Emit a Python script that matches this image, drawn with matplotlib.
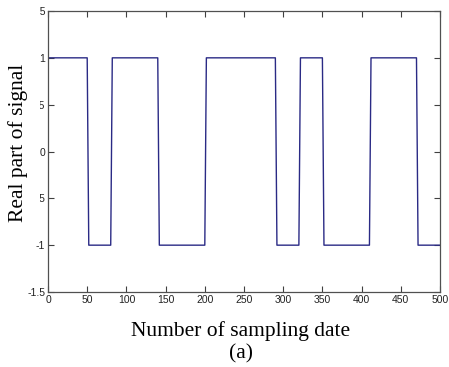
import matplotlib
matplotlib.use("Agg")
import matplotlib.pyplot as plt
from matplotlib.patches import Rectangle

# corner points of the signal (sample index, real part)
samples = [0, 50, 51, 52, 80, 81, 82, 140, 141, 142, 200, 201, 202,
           290, 291, 292, 320, 321, 322, 350, 351, 352, 410, 411, 412,
           470, 471, 472, 500]
real_part = [1, 1, 0, -1, -1, 0, 1, 1, 0, -1, -1, 0, 1,
             1, 0, -1, -1, 0, 1, 1, 0, -1, -1, 0, 1,
             1, 0, -1, -1]

xticks = [0, 50, 100, 150, 200, 250, 300, 350, 400, 450, 500]
yticks = [-1.5, -1, -0.5, 0, 0.5, 1, 1.5]
ytick_labels = ["-1.5", "-1", "-0.5", "0", "0.5", "1", "1.5"]

W, H = 449, 367
fig = plt.figure(figsize=(W / 100, H / 100), dpi=100)
ax = fig.add_axes([48 / W, 1 - 292 / H, 392 / W, 281 / H])

ax.plot(samples, real_part, color="#2a2a85", linewidth=1.0)

ax.set_xlim(0, 500)
ax.set_ylim(-1.5, 1.5)
ax.set_xticks(xticks)
ax.set_yticks(yticks)
ax.set_yticklabels(ytick_labels)
ax.tick_params(direction="in", length=4, width=0.8, color="#404040",
               labelsize=7.5, pad=2, top=True, right=True,
               labelcolor="#222222")
for lbl in ax.get_xticklabels() + ax.get_yticklabels():
    lbl.set_family("Liberation Sans")
for s in ax.spines.values():
    s.set_color("#505050")
    s.set_linewidth(0.9)

# white patch that hides part of the y tick labels (as in the original)
fig.patches.append(Rectangle((0, 1 - 234 / H), 39.6 / W, 234 / H,
                             transform=fig.transFigure, facecolor="white",
                             edgecolor="none", zorder=5))

fig.text(18 / W, 1 - 143 / H, "Real part of signal", rotation=90,
         ha="center", va="center", fontsize=15.5, family="Liberation Serif",
         zorder=6)
fig.text(241 / W, 1 - 331 / H, "Number of sampling date", ha="center",
         va="center", fontsize=15.5, family="Liberation Serif")
fig.text(241 / W, 1 - 354 / H, "(a)", ha="center", va="center",
         fontsize=15.5, family="Liberation Serif")

fig.savefig("out.png", dpi=100)
